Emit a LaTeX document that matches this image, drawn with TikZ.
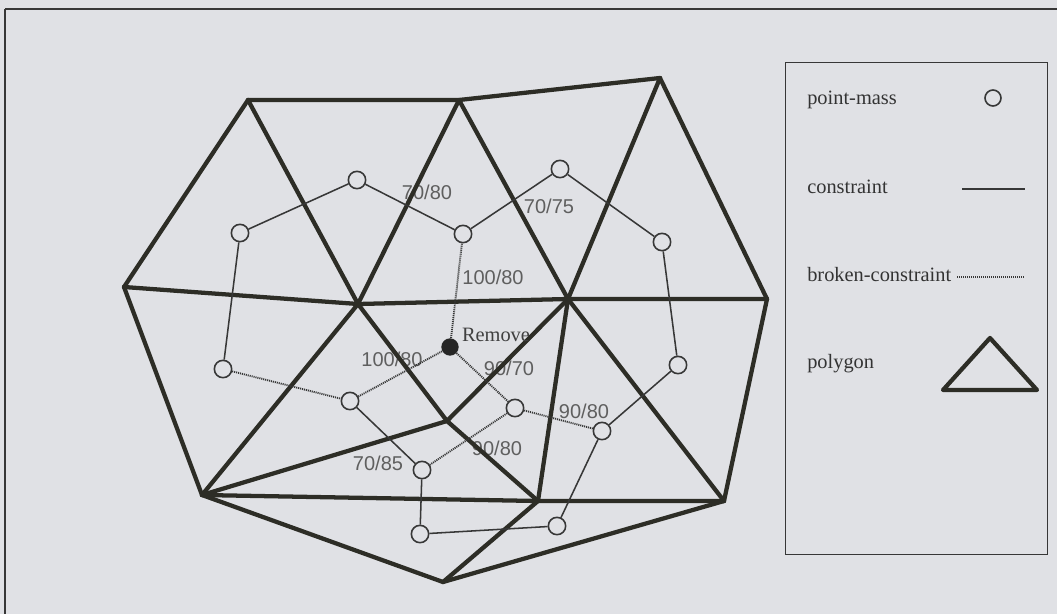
\documentclass[tikz,border=0pt]{standalone}
\usepackage{fontspec}
\setmainfont{Liberation Serif}
\newfontfamily\numfont{Liberation Sans}
\definecolor{paper}{RGB}{224,225,229}
\definecolor{ink}{RGB}{45,45,38}
\definecolor{thinink}{RGB}{55,55,55}
\definecolor{labelgray}{RGB}{95,95,95}
\begin{document}
\begin{tikzpicture}[x=0.75pt,y=-0.75pt,
  poly/.style={draw=ink,line width=3.2pt,line cap=round,line join=round},
  cons/.style={draw=thinink,line width=1.15pt},
  broken/.style={draw=thinink,line width=1.4pt,dash pattern=on 0.8pt off 0.7pt},
  pmass/.style={circle,draw=thinink,line width=1.2pt,fill=paper,inner sep=0pt,minimum size=13pt},
  removed/.style={circle,fill=black!85,inner sep=0pt,minimum size=13pt},
  numlabel/.style={text=labelgray,inner sep=0pt,font=\numfont\fontsize{15}{18}\selectfont},
  legtext/.style={text=black!80,inner sep=0pt,anchor=base west,font=\fontsize{15.3}{18}\selectfont}]

% page and outer frame
\fill[paper] (0,0) rectangle (1057,614);
\useasboundingbox (0,0) rectangle (1057,614);
\draw[thinink,line width=1.1pt] (5,9) -- (1060,9);
\draw[thinink,line width=1.1pt] (5,9) -- (5,620);

% mesh vertices
\coordinate (A) at (248,100);
\coordinate (B) at (459,100);
\coordinate (C) at (660,78);
\coordinate (D) at (124,287);
\coordinate (E) at (358,304);
\coordinate (F) at (568,299);
\coordinate (G) at (767,299);
\coordinate (H) at (202,495);
\coordinate (I) at (447,421);
\coordinate (J) at (538,501);
\coordinate (K) at (724,501);
\coordinate (L) at (443,582);

% labels on constraints
\node[numlabel] (l1) at (427,192) {70/80};
\node[numlabel] (l2) at (549,206) {70/75};
\node[numlabel] (l3) at (493,277) {100/80};
\node[numlabel] (l4) at (392,359) {100/80};
\node[numlabel] (l5) at (509,368) {90/70};
\node[numlabel] (l6) at (584,411) {90/80};
\node[numlabel] (l7) at (497,448) {90/80};
\node[numlabel] (l8) at (378,463) {70/85};

% polygon mesh
\draw[poly] (A) -- (B) -- (C);
\draw[poly] (A) -- (D);
\draw[poly] (A) -- (E);
\draw[poly] (B) -- (E);
\draw[poly] (B) -- (F);
\draw[poly] (C) -- (F);
\draw[poly] (C) -- (G);
\draw[poly] (D) -- (E) -- (F) -- (G);
\draw[poly] (D) -- (H);
\draw[poly] (E) -- (H);
\draw[poly] (E) -- (I) -- (J);
\draw[poly] (F) -- (I) -- (H);
\draw[poly] (F) -- (J);
\draw[poly] (F) -- (K);
\draw[poly] (G) -- (K);
\draw[poly] (H) -- (J) -- (K);
\draw[poly] (H) -- (L) -- (K);
\draw[poly] (J) -- (L);

% point masses
\node[pmass] (p1) at (240,233) {};
\node[pmass] (p2) at (357,180) {};
\node[pmass] (p3) at (463,234) {};
\node[pmass] (p4) at (560,169) {};
\node[pmass] (p5) at (662,242) {};
\node[pmass] (p6) at (678,365) {};
\node[pmass] (p7) at (602,431) {};
\node[pmass] (p8) at (515,408) {};
\node[pmass] (p9) at (422,470) {};
\node[pmass] (p10) at (350,401) {};
\node[pmass] (p11) at (223,369) {};
\node[pmass] (p12) at (420,534) {};
\node[pmass] (p13) at (557,526) {};
\node[removed] (rm) at (450,347) {};
\node[inner sep=0pt,font=\fontsize{15.3}{18}\selectfont,text=black!75] (rmtext) at (496,335) {Remove};

% intact constraints
\draw[cons] (p11) -- (p1) -- (p2) -- (p3) -- (p4) -- (p5) -- (p6) -- (p7) -- (p13) -- (p12) -- (p9) -- (p10);

% broken constraints
\draw[broken] (p11) -- (p10);
\draw[broken] (p10) -- (rm);
\draw[broken] (rm) -- (p3);
\draw[broken] (rm) -- (p8);
\draw[broken] (p8) -- (p7);
\draw[broken] (p8) -- (p9);

% legend
\node[draw=thinink,line width=1.1pt,minimum width=196.5pt,minimum height=369pt,anchor=north west,inner sep=0pt] (legend) at (785,62) {};
\node[legtext] (lg1) at (807,104) {point-mass};
\node[pmass,minimum size=12pt] (lgpm) at (993,98) {};
\node[legtext] (lg2) at (807,193) {constraint};
\coordinate (c1a) at (962,189);
\coordinate (c1b) at (1025,189);
\draw[cons] (c1a) -- (c1b);
\node[legtext] (lg3) at (807,281) {broken-constraint};
\coordinate (c2a) at (957,277);
\coordinate (c2b) at (1024,277);
\draw[broken,line width=1pt] (c2a) -- (c2b);
\node[legtext] (lg4) at (807,368) {polygon};
\coordinate (t1) at (943,390);
\coordinate (t2) at (990,338);
\coordinate (t3) at (1037,390);
\draw[poly] (t1) -- (t2) -- (t3) -- cycle;
\end{tikzpicture}
\end{document}
